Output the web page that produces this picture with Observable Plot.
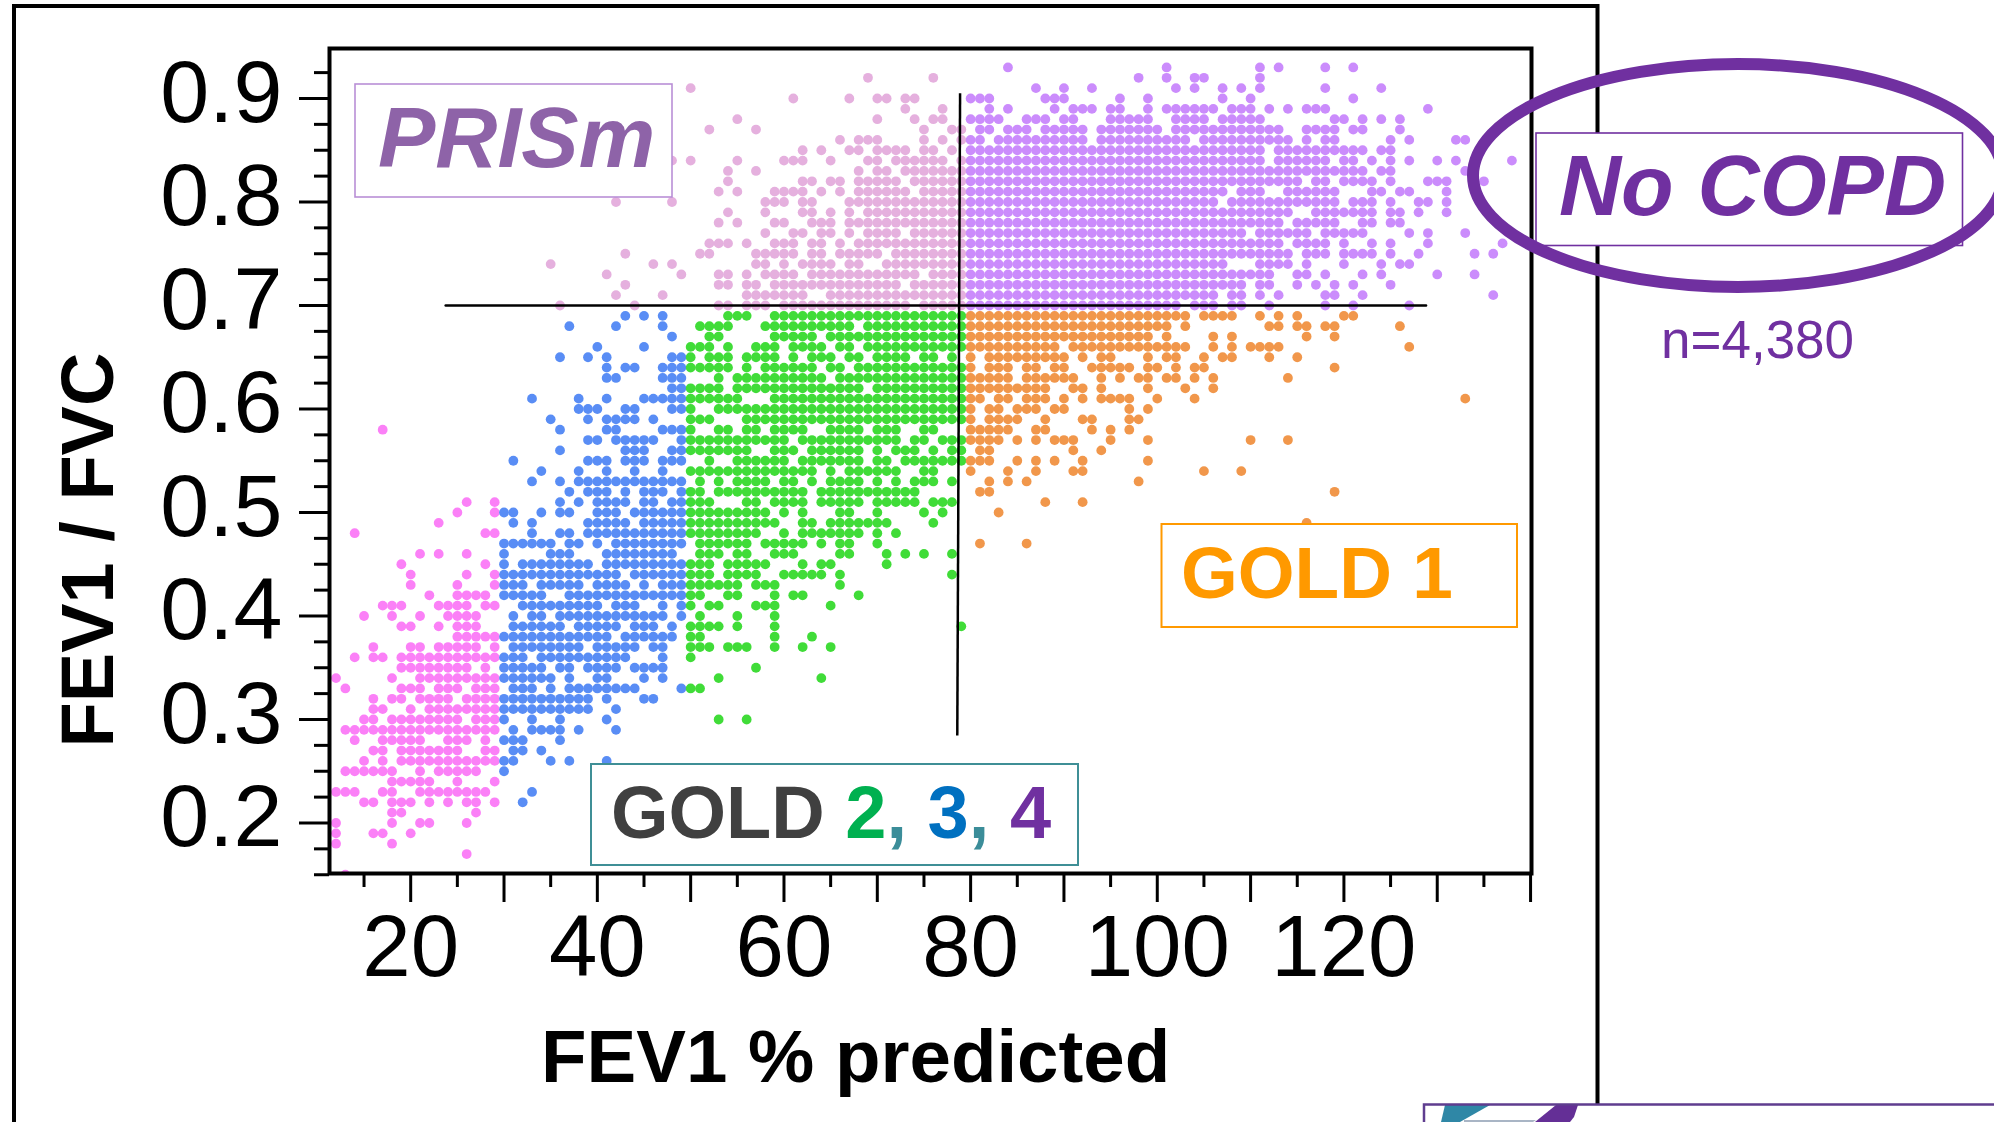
<!DOCTYPE html>
<html>
<head>
<meta charset="utf-8">
<style>html,body{margin:0;padding:0;background:#fff}svg{display:block}</style>
<script src="https://cdn.jsdelivr.net/npm/d3@7"></script>
<script src="https://cdn.jsdelivr.net/npm/@observablehq/plot@0.6"></script>
</head>
<body>
<div id="chart"></div>
<script>
// Each row: [FEV1/FVC, "FEV1 % predicted values or inclusive runs"]
const noCopdRows = [
[0.93,"84 101 111 113 118 121"],
[0.92,"98 101 104 105 111"],
[0.91,"87 90 93 102 104 107 109 111 118 124"],
[0.90,"80-82 88-90 96 99 107 110 121"],
[0.89,"82 84 89 91-93 95 96 99 101-106 108-110 112 114 116-118 129"],
[0.88,"80-83 86-88 90 91 95-99 102-105 107-111 119 120 122 124 126"],
[0.87,"81 82 84-86 88-92 94-100 102-113 116-119 121 122 126"],
[0.86,"80 81 83-92 94-103 105-114 116 118 119 125 127 132 133"],
[0.85,"80-111 113-122 124 125"],
[0.84,"80-111 113-118 120 121 123 125 127 130 132 138"],
[0.83,"80-122 124 125 133"],
[0.82,"80-115 117 118 120-123 125 129-131 135"],
[0.81,"80-107 109-111 114-119 123 124 126 127 131"],
[0.80,"80-106 108-119 121-123 125 128 129 131"],
[0.79,"80-114 117-123 125 126 128 131"],
[0.78,"80-113 115-119 122 123 125 126"],
[0.77,"80-109 111-116 118-122 127 129 133"],
[0.76,"80-113 115-118 120 123 125 129 137"],
[0.75,"80-114 116-118 120-123 125 128 134 136"],
[0.74,"80-107 111-114 116 120 124 126 127"],
[0.73,"80-112 115 116 118 122 124 130 134"],
[0.72,"80-109 111 112 115 117 119 121 125"],
[0.71,"80-106 108 109 111 113 118 119 122 136"],
[0.70,"80-102 104-106 108 109 112 118 121 127"]
];
const prismRows = [
[0.92,"69 76"],
[0.91,"50"],
[0.90,"61 67 70 71 73 74"],
[0.89,"73 77"],
[0.88,"55 70 74 76 77"],
[0.87,"52 57 75 78 79"],
[0.86,"66 68-70 75 77 79"],
[0.85,"62 64 67 68 70-73 75 76 78"],
[0.84,"48 50 55 60-62 65 69 70 72-77 79"],
[0.83,"54 57 68 70 71 73-79"],
[0.82,"54 62 63 65 66 68-72 74-79"],
[0.81,"53 55 59-62 64 66 68-73 75-79"],
[0.80,"42 48 58-60 62 63 67-79"],
[0.79,"54 58 62 63 65 67 69-79"],
[0.78,"53 55 59 60 63-65 67-79"],
[0.77,"58 61 62 64 65 67 69-72 74-79"],
[0.76,"52-54 56 59-61 63 64 66 68-79"],
[0.75,"43 51 52 57-61 63 64 66-70 72-79"],
[0.74,"35 46 48 57 58 60 62-65 67 68 71-79"],
[0.73,"41 49 53 54 56 58-61 63-74 76-79"],
[0.72,"43 53 54 56 57 59-72 74-79"],
[0.71,"42 47 56-62 65-79"],
[0.70,"36 44 53 54 56-58 60-73 75-79"]
];
const gold1Rows = [
[0.69,"80-103 105-108 111 113 115 120 121"],
[0.68,"80-101 103 112 113 115 116 118 119 126"],
[0.67,"80-99 101 106 108 116 119"],
[0.66,"80-89 91-103 106 108 110-113 127"],
[0.65,"80 82-90 92 94 95 99 101 102 105 107 108 112 115"],
[0.64,"80 82-84 86 87 89 90 93-97 99 100 102 104 105 119"],
[0.63,"80-84 86-91 94 96 98 99 101 102 104 106 114"],
[0.62,"80-88 91 92 94 99 103 106"],
[0.61,"80 81 83 84 86-88 90 92 94-97 100 104 133"],
[0.60,"80 82 83 85-87 89 90 97 99"],
[0.59,"80 82-85 88 92 93 97 98"],
[0.58,"80-84 87 88 93 95 97"],
[0.57,"80-83 85 87 89-91 95 99 110 114"],
[0.56,"81 82 91 94"],
[0.55,"80-82 85 87 89 92 99"],
[0.54,"80 84 87 91 92 105 109"],
[0.53,"82 84 86 98"],
[0.52,"81 82 119"],
[0.51,"88 92"],
[0.50,"83"],
[0.49,"116"],
[0.47,"81 86"]
];
const gold2Rows = [
[0.69,"54-56 59-79"],
[0.68,"51-54 58-67 69-79"],
[0.67,"52 53 59-63 65-79"],
[0.66,"50-52 54 57-59 61-64 66 67 69-79"],
[0.65,"50 52-54 56-59 61 63-65 67 68 70-73 75 76 78"],
[0.64,"50-54 56 58-63 65 66 68-79"],
[0.63,"53 55-64 66-79"],
[0.62,"50-53 55-68 70-79"],
[0.61,"50-55 59-79"],
[0.60,"50 53-79"],
[0.59,"50-52 56-79"],
[0.58,"50 53 54 56 57 59-62 65-68 70-72 75 76"],
[0.57,"50-60 62-72 74 75 77-79"],
[0.56,"50-56 59-61 63-68 70 72-74 76 78 79"],
[0.55,"52 55-60 62-68 70 71 73-79"],
[0.54,"50-63 65 67-72 75 76"],
[0.53,"51 53 55-58 60 61 63 65-68 70 72 74-76 78"],
[0.52,"50 51 53-62 64-74"],
[0.51,"50-52 56 57 59-62 64-68 70-74 76-78"],
[0.50,"50-58 60 62 66 67 70 75 77"],
[0.49,"50-59 62 63 65-71 76"],
[0.48,"50-57 60 62-68 70 72"],
[0.47,"51-56 58-62 64 66 67 70"],
[0.46,"51-53 55 56 59-61 66 67 71 73 75 78"],
[0.45,"50-52 54-58 62 64 65 71"],
[0.44,"50-52 54-57 60-64 66 78"],
[0.43,"50-55 57-59 66"],
[0.42,"50 51 54 55 59 61 62 68"],
[0.41,"50 52 53 57-59 65"],
[0.40,"51 55 59"],
[0.39,"50-53 55 59 79"],
[0.38,"50 51 59 63"],
[0.37,"50-52 54-56 59 62 65"],
[0.36,"50"],
[0.35,"57"],
[0.34,"53 64"],
[0.33,"50 51"],
[0.30,"53 56"]
];
const gold3Rows = [
[0.69,"43 45 47"],
[0.68,"37 42 47"],
[0.67,"48"],
[0.66,"40 45"],
[0.65,"36 39 41 48 49"],
[0.64,"41 43 44 47-49"],
[0.63,"41 42 47-49"],
[0.62,"48 49"],
[0.61,"33 38 41 45-49"],
[0.60,"38-40 43 44 48 49"],
[0.59,"35 39 41-44 46"],
[0.58,"36 41 42 47-49"],
[0.57,"39 40 42-46 49"],
[0.56,"36 43-45 48 49"],
[0.55,"31 39-41 43-45 47-49"],
[0.54,"34 38 41 44 47"],
[0.53,"33 36 38-49"],
[0.52,"37 39-41 43 45-47 49"],
[0.51,"36 38 40-43 45 46 48 49"],
[0.50,"30 31 34 36 37 40-42 44-49"],
[0.49,"31 33 39-43 45-49"],
[0.48,"33 36 37 39-49"],
[0.47,"30-35 37 38 40 42-49"],
[0.46,"30 35-37 41-48"],
[0.45,"30 32-39 41-49"],
[0.44,"30-42 44-49"],
[0.43,"30-32 34-38 40-43 45 47-49"],
[0.42,"30-34 37-49"],
[0.41,"32-40 42-44 47 49"],
[0.40,"31 33 34 36-47 49"],
[0.39,"31-36 38-42 44-46 48"],
[0.38,"30-41 43-48"],
[0.37,"31-38 40-44 46 47"],
[0.36,"30-32 34-43 47"],
[0.35,"30-34 36 37 39-42 44-47"],
[0.34,"30-35 37 40 41 45 47"],
[0.33,"31-33 35 37-44 49"],
[0.32,"30-39 41 45 46"],
[0.31,"30-39 42"],
[0.30,"30 33 36 41"],
[0.29,"31 33-36 38 42"],
[0.28,"30-32 36"],
[0.27,"31 32 34"],
[0.26,"30 31 35 37 41"],
[0.25,"30"],
[0.23,"33"],
[0.22,"32"]
];
const gold4Rows = [
[0.58,"17"],
[0.51,"26 29"],
[0.50,"25 29"],
[0.49,"23"],
[0.48,"14 28 29"],
[0.46,"21 23 26"],
[0.45,"19 28"],
[0.44,"20 26 29"],
[0.43,"20 25 29"],
[0.42,"22 25-28"],
[0.41,"17-19 23-26 28 29"],
[0.40,"15 18 21 24-27"],
[0.39,"19 20 23 25-27"],
[0.38,"25-29"],
[0.37,"16 20 21 23-27 29"],
[0.36,"14 16 17 19-29"],
[0.35,"19-25 26 28"],
[0.34,"12 18 21-29"],
[0.33,"13 19-21 23-25 27-29"],
[0.32,"16 18 19 21-24 26-29"],
[0.31,"16 17 20 22-29"],
[0.30,"15 16 18-25 27-29"],
[0.29,"13-29"],
[0.28,"14 17-21 24-26 28"],
[0.27,"16 17 19-25 28 29"],
[0.26,"15 17 19-26 27-29"],
[0.25,"13-18 21 23-27"],
[0.24,"18-22 25 29"],
[0.23,"12-14 17 18 21-28"],
[0.22,"15 16 18-20 22 24 26 27 29"],
[0.21,"18 19 27"],
[0.20,"12 18 21 22 26"],
[0.19,"12 16 17 20"],
[0.18,"12 18"],
[0.17,"26"],
[0.15,"13"]
];

const groupColors = {noCopd:"#cb8cfc", prism:"#e5b0de", gold1:"#f1974b", gold2:"#40dc38", gold3:"#598df5", gold4:"#fb80f7"};
const xMajorTicks = [20,30,40,50,60,70,80,90,100,110,120,130,140];
const xMinorTicks = [15,25,35,45,55,65,75,85,95,105,115,125,135];
const xLabelTicks = [20,40,60,80,100,120];
const yMajorTicks = [0.2,0.3,0.4,0.5,0.6,0.7,0.8,0.9];
const yMinorTicks = [0.15,0.175,0.225,0.25,0.275,0.325,0.35,0.375,0.425,0.45,0.475,0.525,0.55,0.575,0.625,0.65,0.675,0.725,0.75,0.775,0.825,0.85,0.875,0.925];
const fevThreshold = [{x:23.75,y:0.7},{x:128.8,y:0.7}];
const ratioThreshold = {x1:78.87,y1:0.905,x2:78.57,y2:0.2845};

function expand(rows){
  return rows.flatMap(([y,runs]) => runs.split(" ").flatMap(r => {
    const [a,b=a] = r.split("-").map(Number);
    return d3.range(a,b+1).map(x => ({x,y}));
  }));
}
const FONT = "'Liberation Sans', Arial, sans-serif";
const PURPLE = "#7030a0";

function dots(rows,fill){
  return Plot.dot(expand(rows),{x:"x",y:"y",r:4.9,fill,clip:"frame"});
}

function decorations(){
  const g = d3.create("svg:g").attr("font-family",FONT).attr("text-anchor","start");
  // outer panel
  g.append("path").attr("d","M14,1122V6H1597.5V1104").attr("fill","none").attr("stroke","#000").attr("stroke-width",4);
  const box = (x0,y0,x1,y1,stroke,w=1.6) => g.append("rect").attr("x",x0).attr("y",y0).attr("width",x1-x0).attr("height",y1-y0)
    .attr("fill","#fff").attr("stroke",stroke).attr("stroke-width",w);
  const label = (x,y,size,fill,txt,extra={}) => {
    const t = g.append("text").attr("x",x).attr("y",y).attr("font-size",size).attr("fill",fill).attr("font-weight","bold").text(txt);
    for (const k in extra) t.attr(k,extra[k]);
    return t;
  };
  box(355,84,672,197,"#b98fd6");
  label(378,166.5,86,"#8e63a8","PRISm",{"font-style":"italic"});
  box(1536,133,1962.5,245.5,PURPLE);
  label(1559,215,86,PURPLE,"No COPD",{"font-style":"italic"});
  box(1161.5,524,1517,627,"#ff9900",2);
  label(1181,597.5,73,"#ff9900","GOLD 1");
  box(591,764,1078,865,"#3f8f96",2);
  const gold = label(611,837.5,74,"#404040","GOLD ");
  [["2","#00b050"],[",","#3b8d99"],[" ","#3b8d99"],["3","#0070c0"],[",","#3b8d99"],[" ","#3b8d99"],["4",PURPLE]]
    .forEach(([s,c]) => gold.append("tspan").attr("fill",c).attr("xml:space","preserve").text(s));
  g.append("ellipse").attr("cx",1738).attr("cy",175.5).attr("rx",265).attr("ry",111.5)
    .attr("fill","none").attr("stroke",PURPLE).attr("stroke-width",12);
  g.append("text").attr("x",1661).attr("y",358).attr("font-size",53).attr("fill",PURPLE).text("n=4,380");
  label(541,1082,74.5,"#000","FEV1 % predicted");
  label(0,0,74,"#000","FEV1 / FVC",{"text-anchor":"middle","transform":"translate(113,550) rotate(-90)"});
  // clipped logo at the bottom right
  g.append("polygon").attr("points","1445,1105 1490,1105 1460,1122 1441,1122").attr("fill","#2f87a6");
  g.append("polygon").attr("points","1464,1120 1536,1120 1533,1122 1464,1122").attr("fill","#a9b5c5");
  g.append("polygon").attr("points","1556,1105 1578,1105 1574,1117 1570,1122 1535,1122").attr("fill","#642f96");
  g.append("path").attr("d","M1424,1122V1104.5H1994").attr("fill","none").attr("stroke","#5f3d8f").attr("stroke-width",2.5);
  return g.node();
}

const plot = Plot.plot({
  width:1994, height:1122,
  marginLeft:329, marginRight:463, marginTop:48, marginBottom:249,
  style:{background:"#fff", fontFamily:FONT},
  x:{domain:[11.3,140.1], axis:null},
  y:{domain:[0.1512,0.9483], axis:null},
  marks:[
    dots(prismRows,groupColors.prism),
    dots(noCopdRows,groupColors.noCopd),
    dots(gold4Rows,groupColors.gold4),
    dots(gold3Rows,groupColors.gold3),
    dots(gold2Rows,groupColors.gold2),
    dots(gold1Rows,groupColors.gold1),
    Plot.line(fevThreshold,{x:"x",y:"y",stroke:"#000",strokeWidth:2.5}),
    Plot.link([ratioThreshold],{x1:"x1",y1:"y1",x2:"x2",y2:"y2",stroke:"#000",strokeWidth:2.5}),
    Plot.axisX({ticks:xMinorTicks,tickSize:14,strokeWidth:3,tickFormat:()=>""}),
    Plot.axisX({ticks:xMajorTicks,tickSize:29,strokeWidth:3,tickFormat:()=>""}),
    Plot.axisX({ticks:xLabelTicks,tickSize:0,tickPadding:41,fontSize:87,fontFamily:FONT,fill:"#000"}),
    Plot.axisY({ticks:yMinorTicks,tickSize:15,strokeWidth:3,tickFormat:()=>""}),
    Plot.axisY({ticks:yMajorTicks,tickSize:30,strokeWidth:3,tickFormat:()=>""}),
    Plot.axisY({ticks:yMajorTicks,tickSize:0,tickPadding:47,fontSize:88,fontFamily:FONT,fill:"#000",dy:-5,
      tickFormat:d=>d.toFixed(1)}),
    Plot.frame({stroke:"#000",strokeWidth:4}),
    decorations
  ]
});
document.getElementById("chart").append(plot);
</script>
</body>
</html>
